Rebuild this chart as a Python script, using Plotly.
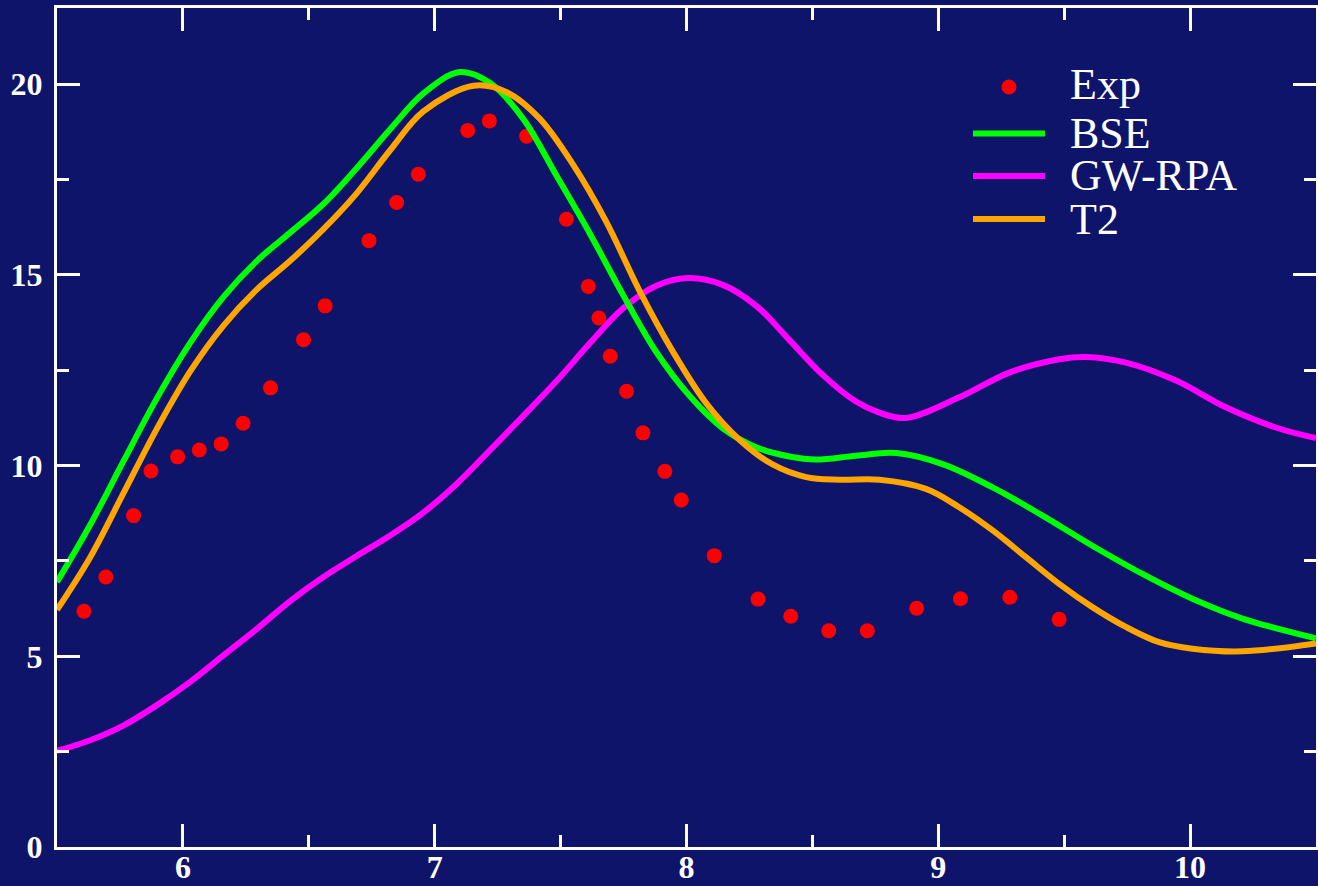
import plotly.graph_objects as go

# ---- data ----
exp_x = [5.607, 5.694, 5.804, 5.873, 5.979, 6.065, 6.152, 6.239, 6.348, 6.479, 6.565,
         6.739, 6.849, 6.935, 7.131, 7.217, 7.365, 7.523, 7.610, 7.652, 7.697, 7.762,
         7.827, 7.914, 7.979, 8.110, 8.284, 8.414, 8.565, 8.718, 8.914, 9.088, 9.284, 9.480]
exp_y = [6.18, 7.08, 8.69, 9.86, 10.23, 10.41, 10.57, 11.11, 12.04, 13.30, 14.19,
         15.90, 16.90, 17.64, 18.79, 19.04, 18.64, 16.46, 14.70, 13.87, 12.87, 11.95,
         10.86, 9.85, 9.10, 7.64, 6.50, 6.05, 5.67, 5.67, 6.26, 6.51, 6.55, 5.97]

bse_x = [5.5, 5.632, 5.765, 5.897, 6.029, 6.162, 6.294, 6.426, 6.558, 6.690, 6.823,
         6.955, 7.100, 7.219, 7.351, 7.484, 7.615, 7.747, 7.880, 8.012, 8.144, 8.277,
         8.409, 8.515, 8.673, 8.832, 9.017, 9.216, 9.414, 9.612, 9.811, 10.009, 10.208, 10.5]
bse_y = [6.95, 8.45, 10.13, 11.77, 13.22, 14.43, 15.37, 16.11, 16.86, 17.80, 18.82,
         19.76, 20.32, 20.04, 19.10, 17.60, 16.10, 14.49, 12.98, 11.83, 10.98, 10.48,
         10.24, 10.16, 10.26, 10.33, 10.04, 9.43, 8.69, 7.90, 7.16, 6.51, 5.99, 5.47]

gw_x = [5.5, 5.632, 5.765, 5.897, 6.029, 6.162, 6.294, 6.426, 6.558, 6.690, 6.823,
        6.955, 7.087, 7.219, 7.351, 7.484, 7.615, 7.747, 7.880, 8.012, 8.144,
        8.277, 8.409, 8.541, 8.673, 8.766, 8.872, 9.083, 9.282, 9.480, 9.586, 9.745,
        9.944, 10.142, 10.340, 10.5]
gw_y = [2.52, 2.80, 3.19, 3.72, 4.33, 5.03, 5.72, 6.45, 7.08, 7.63, 8.17,
        8.77, 9.52, 10.40, 11.30, 12.22, 13.20, 14.12, 14.72, 14.92, 14.74,
        14.19, 13.29, 12.38, 11.68, 11.39, 11.25, 11.79, 12.44, 12.79, 12.85, 12.70,
        12.23, 11.53, 11.00, 10.72]

t2_x = [5.5, 5.632, 5.765, 5.897, 6.029, 6.162, 6.294, 6.426, 6.558, 6.690, 6.823,
        6.955, 7.154, 7.284, 7.417, 7.549, 7.681, 7.813, 7.946, 8.078, 8.210, 8.342,
        8.475, 8.607, 8.766, 8.951, 9.083, 9.216, 9.348, 9.480, 9.612, 9.745, 9.877,
        10.009, 10.208, 10.5]
t2_y = [6.22, 7.60, 9.29, 10.97, 12.47, 13.68, 14.62, 15.37, 16.20, 17.14, 18.27,
        19.29, 19.96, 19.80, 19.10, 17.90, 16.40, 14.59, 12.99, 11.64, 10.68, 10.03,
        9.70, 9.63, 9.63, 9.39, 8.91, 8.30, 7.60, 6.90, 6.29, 5.77, 5.37,
        5.20, 5.13, 5.34]

x_ticks = [6, 7, 8, 9, 10]
y_ticks = [0, 5, 10, 15, 20]
legend_names = ["Exp", "BSE", "GW-RPA", "T2"]

BG = "#0f146b"
C_EXP = "#ff0000"
C_BSE = "#00ff00"
C_GW = "#ff00ff"
C_T2 = "#ffa500"
SERIF = "Liberation Serif, Times New Roman, serif"

W, H = 1318, 886
ML, MR, MT, MB = 57, 2, 8, 39
PW, PH = W - ML - MR, H - MT - MB

fig = go.Figure()
fig.add_trace(go.Scatter(x=exp_x, y=exp_y, mode="markers", name=legend_names[0],
                         marker=dict(color=C_EXP, size=15, line=dict(width=0)),
                         showlegend=False))
fig.add_trace(go.Scatter(x=gw_x, y=gw_y, mode="lines", name=legend_names[2],
                         line=dict(color=C_GW, width=6, shape="spline"), showlegend=False))
fig.add_trace(go.Scatter(x=bse_x, y=bse_y, mode="lines", name=legend_names[1],
                         line=dict(color=C_BSE, width=6, shape="spline"), showlegend=False))
fig.add_trace(go.Scatter(x=t2_x, y=t2_y, mode="lines", name=legend_names[3],
                         line=dict(color=C_T2, width=6, shape="spline"), showlegend=False))

axis_common = dict(
    showline=True, linewidth=3, linecolor="white", mirror="allticks",
    ticks="inside", ticklen=23, tickwidth=3, tickcolor="white",
    showgrid=False, zeroline=False, automargin=False,
    tickfont=dict(family=SERIF, size=32, color="white", weight="bold"),
)

fig.update_xaxes(range=[5.5, 10.5], tickvals=x_ticks, ticktext=[str(v) for v in x_ticks],
                 minor=dict(ticks="inside", ticklen=12, tickwidth=3, tickcolor="white",
                            dtick=0.5, tick0=5.5, showgrid=False),
                 ticklabelstandoff=-10, **axis_common)
fig.update_yaxes(range=[0, 22], tickvals=y_ticks, ticktext=[str(v) for v in y_ticks],
                 minor=dict(ticks="inside", ticklen=12, tickwidth=3, tickcolor="white",
                            dtick=2.5, tick0=0, showgrid=False),
                 ticklabelstandoff=5, **axis_common)


def px_to_paper(px, py):
    return (px - ML) / PW, (H - MB - py) / PH


# ---- legend drawn in paper coordinates ----
leg_line_px = (973, 1045)
leg_text_px = 1070
leg_rows_py = [84, 133.5, 176, 219]
leg_colors = [C_EXP, C_BSE, C_GW, C_T2]
for i, (name, col, py) in enumerate(zip(legend_names, leg_colors, leg_rows_py)):
    if i == 0:
        cx, cy = px_to_paper(1009, 87)
        fig.add_shape(type="circle", xref="paper", yref="paper",
                      x0=cx - 7.5 / PW, x1=cx + 7.5 / PW,
                      y0=cy - 7.5 / PH, y1=cy + 7.5 / PH,
                      fillcolor=col, line=dict(width=0))
    else:
        x0, yy = px_to_paper(leg_line_px[0], py)
        x1, _ = px_to_paper(leg_line_px[1], py)
        fig.add_shape(type="line", xref="paper", yref="paper",
                      x0=x0, x1=x1, y0=yy, y1=yy,
                      line=dict(color=col, width=6))
    tx, ty = px_to_paper(leg_text_px, py)
    fig.add_annotation(x=tx, y=ty, xref="paper", yref="paper",
                       text=name, showarrow=False, xanchor="left", yanchor="middle",
                       xshift=-2,
                       font=dict(family=SERIF, size=44, color="white"))

fig.update_layout(
    width=W, height=H,
    margin=dict(l=ML, r=MR, t=MT, b=MB),
    paper_bgcolor=BG, plot_bgcolor=BG,
    showlegend=False,
)

fig.write_html("out.html",
               config={"displayModeBar": False},
               post_script="document.body.style.margin='0';"
                           "document.body.style.background='" + BG + "';"
                           "document.body.style.overflow='hidden';")
